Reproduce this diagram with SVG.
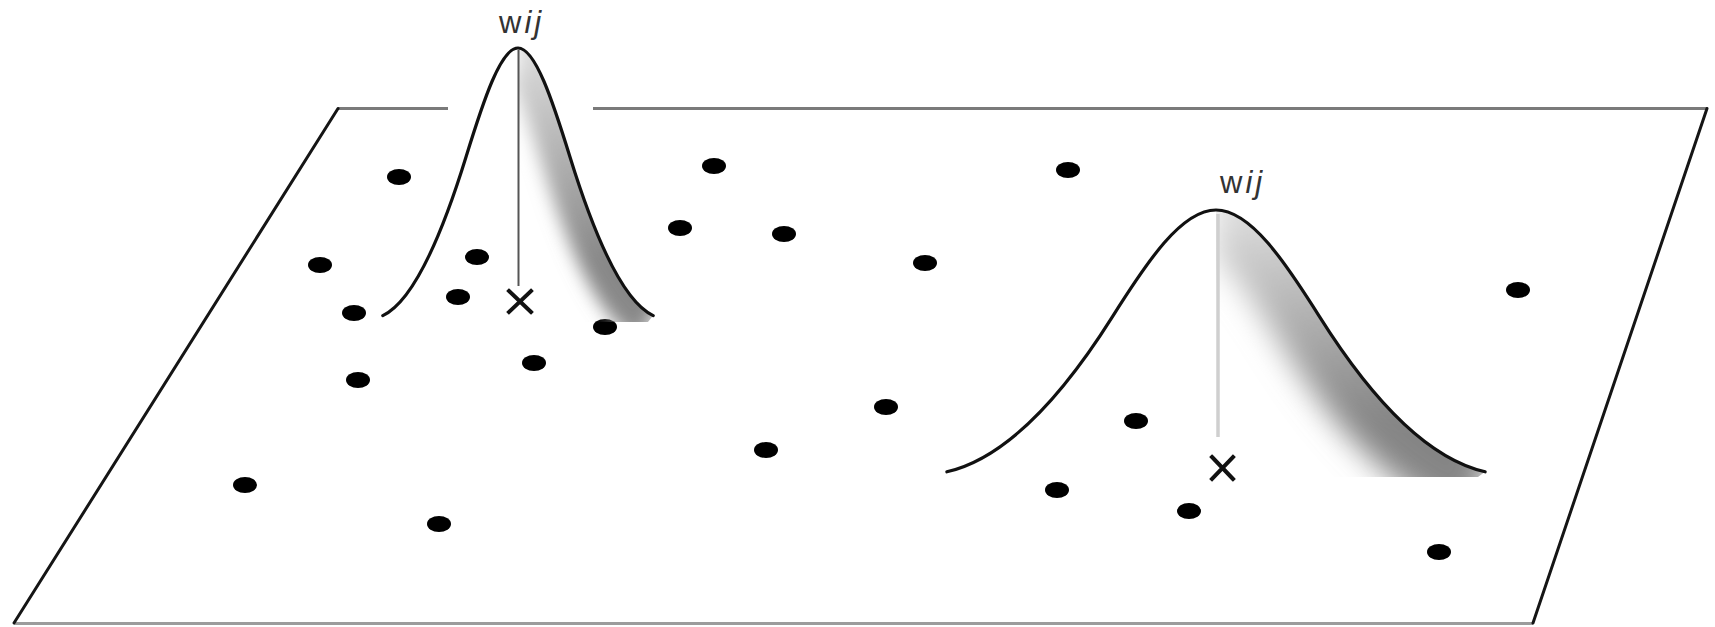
<svg xmlns="http://www.w3.org/2000/svg" width="1715" height="627" viewBox="0 0 1715 627">
<style>
.edge{stroke:#151515;stroke-width:3;fill:none;stroke-linecap:round}
.hedge{stroke:#7a7a7a;stroke-width:3;fill:none}
.bedge{stroke:#9c9c9c;stroke-width:3;fill:none}
.curve{stroke:#111;stroke-width:3.2;fill:none;stroke-linecap:round}
.dot{fill:#000}
.xm{stroke:#111;stroke-width:4;stroke-linecap:square}
.lbl{font-family:"Liberation Sans",Arial,sans-serif;font-size:31px;fill:#333;letter-spacing:3px}
</style>
<defs>
<filter id="bL" x="-50%" y="-20%" width="200%" height="140%"><feGaussianBlur stdDeviation="9"/></filter>
<filter id="bR" x="-50%" y="-50%" width="200%" height="200%"><feGaussianBlur stdDeviation="15"/></filter>
<linearGradient id="gL" gradientUnits="userSpaceOnUse" x1="0" y1="50" x2="0" y2="260">
<stop offset="0" stop-color="#dcdcdc"/>
<stop offset="1" stop-color="#888"/>
</linearGradient>
<linearGradient id="gR" gradientUnits="userSpaceOnUse" x1="0" y1="210" x2="0" y2="420">
<stop offset="0" stop-color="#dedede"/>
<stop offset="1" stop-color="#858585"/>
</linearGradient>
<clipPath id="cL"><path d="M518 48 C535.3 48 552.7 101 570 157 C597.7 246.6 625.5 302.6 653.2 315.6 L648 322 L518 322 Z"/></clipPath>
<clipPath id="cR"><path d="M1216 210 C1250.5 210 1285 261.8 1319.5 316.6 C1374.7 404.3 1429.9 459.1 1485.1 471.8 L1478 477 L1216 477 Z"/></clipPath>
</defs>
<rect width="1715" height="627" fill="#fff"/>
<g id="plane">
<line class="hedge" x1="338" y1="108.5" x2="448" y2="108.5"/>
<line class="hedge" x1="593" y1="108.5" x2="1707" y2="108.5"/>
<line class="bedge" x1="14" y1="623.5" x2="1533" y2="623.5"/>
<line class="edge" x1="338" y1="108.5" x2="14" y2="623"/>
<line class="edge" x1="1707" y1="108.5" x2="1533" y2="623"/>
</g>
<g id="dots">
<ellipse class="dot" cx="399" cy="177" rx="12" ry="8"/>
<ellipse class="dot" cx="714" cy="166" rx="12" ry="8"/>
<ellipse class="dot" cx="1068" cy="170" rx="12" ry="8"/>
<ellipse class="dot" cx="320" cy="265" rx="12" ry="8"/>
<ellipse class="dot" cx="477" cy="257" rx="12" ry="8"/>
<ellipse class="dot" cx="680" cy="228" rx="12" ry="8"/>
<ellipse class="dot" cx="784" cy="234" rx="12" ry="8"/>
<ellipse class="dot" cx="925" cy="263" rx="12" ry="8"/>
<ellipse class="dot" cx="354" cy="313" rx="12" ry="8"/>
<ellipse class="dot" cx="458" cy="297" rx="12" ry="8"/>
<ellipse class="dot" cx="605" cy="327" rx="12" ry="8"/>
<ellipse class="dot" cx="534" cy="363" rx="12" ry="8"/>
<ellipse class="dot" cx="358" cy="380" rx="12" ry="8"/>
<ellipse class="dot" cx="886" cy="407" rx="12" ry="8"/>
<ellipse class="dot" cx="766" cy="450" rx="12" ry="8"/>
<ellipse class="dot" cx="1136" cy="421" rx="12" ry="8"/>
<ellipse class="dot" cx="1518" cy="290" rx="12" ry="8"/>
<ellipse class="dot" cx="245" cy="485" rx="12" ry="8"/>
<ellipse class="dot" cx="439" cy="524" rx="12" ry="8"/>
<ellipse class="dot" cx="1057" cy="490" rx="12" ry="8"/>
<ellipse class="dot" cx="1189" cy="511" rx="12" ry="8"/>
<ellipse class="dot" cx="1439" cy="552" rx="12" ry="8"/>
</g>
<g id="peak-left">
<g clip-path="url(#cL)"><path d="M518 48 C535.3 48 552.7 101 570 157 C597.7 246.6 625.5 302.6 653.2 315.6" fill="none" stroke="url(#gL)" stroke-width="58" filter="url(#bL)"/></g>
<line x1="518.5" y1="50" x2="518.5" y2="286" stroke="#555" stroke-width="2"/>
<path class="curve" d="M382.8 315.6 C410.5 302.6 438.3 246.6 466 157 C483.3 101 500.7 48 518 48 C535.3 48 552.7 101 570 157 C597.7 246.6 625.5 302.6 653.2 315.6"/>
<path class="xm" d="M509 291 L531 312 M531 291 L509 312"/>
<text class="lbl" x="499" y="33">w<tspan font-style="italic">ij</tspan></text>
</g>
<g id="peak-right">
<g clip-path="url(#cR)"><path d="M1216 210 C1250.5 210 1285 261.8 1319.5 316.6 C1374.7 404.3 1429.9 459.1 1485.1 471.8" fill="none" stroke="url(#gR)" stroke-width="95" filter="url(#bR)"/></g>
<line x1="1218" y1="214" x2="1218" y2="437" stroke="#cfcfcf" stroke-width="3.5"/>
<path class="curve" d="M946.9 471.8 C1002.1 459.1 1057.3 404.3 1112.5 316.6 C1147 261.8 1181.5 210 1216 210 C1250.5 210 1285 261.8 1319.5 316.6 C1374.7 404.3 1429.9 459.1 1485.1 471.8"/>
<path class="xm" d="M1212 457 L1233 479 M1233 457 L1212 479"/>
<text class="lbl" x="1220" y="193">w<tspan font-style="italic">ij</tspan></text>
</g>
</svg>
